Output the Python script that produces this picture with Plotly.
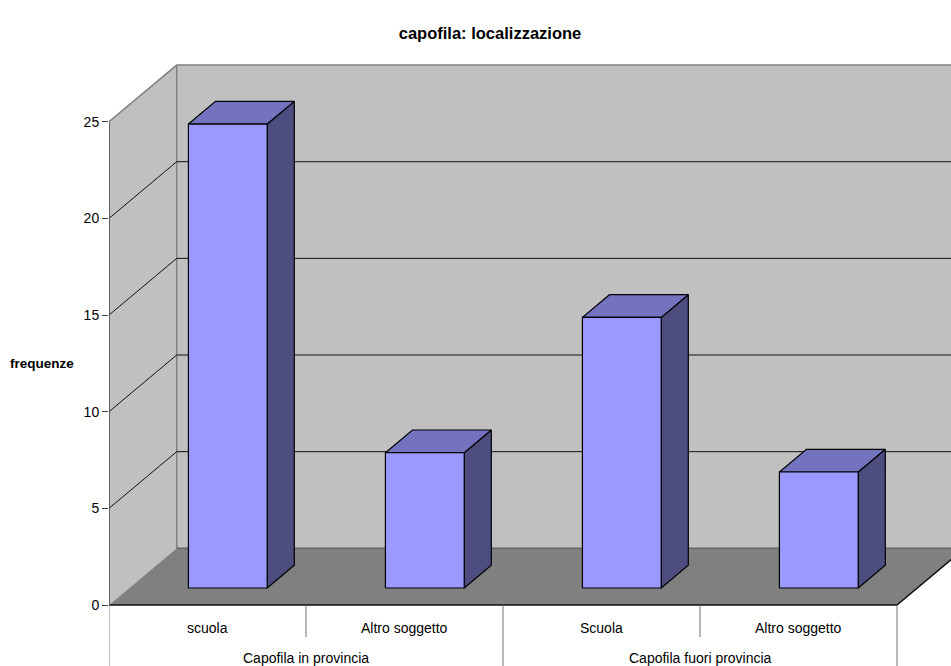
import plotly.graph_objects as go

# Data
categories = ["scuola", "Altro soggetto", "Scuola", "Altro soggetto"]
groups = ["Capofila in provincia", "Capofila fuori provincia"]
frequenze = [24, 7, 14, 6]
y_ticks = [0, 5, 10, 15, 20, 25]
y_max = 25

# Pseudo-3D projection: category units on x, value units on y,
# depth d in [0, 1] shifts points up and to the right.
DEPTH_X = 0.3437
DEPTH_Y = 2.933


def proj(c, v, d):
    return c + d * DEPTH_X, v + d * DEPTH_Y


def poly(points, fill, line_color=None, width=1):
    xs, ys = zip(*[proj(*p) for p in points])
    xs = list(xs) + [xs[0]]
    ys = list(ys) + [ys[0]]
    return go.Scatter(
        x=xs, y=ys, mode="lines", fill="toself", fillcolor=fill,
        line=dict(color=line_color or fill, width=width if line_color else 0),
        hoverinfo="skip", showlegend=False,
    )


def path(points, color, width=1):
    xs, ys = zip(*[proj(*p) for p in points])
    return go.Scatter(
        x=list(xs), y=list(ys), mode="lines",
        line=dict(color=color, width=width),
        hoverinfo="skip", showlegend=False,
    )


n = len(categories)
WALL = "#C0C0C0"
FLOOR = "#808080"
traces = []

# Walls and floor
traces.append(poly([(0, 0, 0), (0, y_max, 0), (0, y_max, 1), (0, 0, 1)], WALL))
traces.append(poly([(0, 0, 1), (n, 0, 1), (n, y_max, 1), (0, y_max, 1)], WALL))
traces.append(poly([(0, 0, 0), (n, 0, 0), (n, 0, 1), (0, 0, 1)], FLOOR))

# Wall edges
traces.append(path([(0, y_max, 0), (0, y_max, 1), (n, y_max, 1)], "#808080", 1.5))
traces.append(path([(0, 0, 1), (0, y_max, 1)], "#808080", 1.5))
traces.append(path([(0, 0, 1), (n, 0, 1)], "#666666", 1.5))

# Gridlines across left and back walls
for v in y_ticks[1:-1]:
    traces.append(path([(0, v, 0), (0, v, 1), (n, v, 1)], "#111111", 1))

# Floor front and right edges
traces.append(path([(0, 0, 0), (n, 0, 0), (n, 0, 1)], "#111111", 1.5))

# Bars
FRONT, TOP, SIDE = "#9999FF", "#7373C0", "#4D4D80"
W0, W1 = 0.3, 0.7
D0, D1 = 0.3, 0.7
for i, v in enumerate(frequenze):
    c0, c1 = i + W0, i + W1
    traces.append(poly([(c1, 0, D0), (c1, 0, D1), (c1, v, D1), (c1, v, D0)], SIDE, "#000000", 1.2))
    traces.append(poly([(c0, v, D0), (c1, v, D0), (c1, v, D1), (c0, v, D1)], TOP, "#000000", 1.2))
    traces.append(poly([(c0, 0, D0), (c1, 0, D0), (c1, v, D0), (c0, v, D0)], FRONT, "#000000", 1.2))

# Front-left axis line
traces.append(path([(0, 0, 0), (0, y_max, 0)], "#404040", 1.5))

# Category table below the floor
ROW1 = -1.655
BOTTOM = -3.2
for k in range(n + 1):
    y_end = BOTTOM if k % 2 == 0 else ROW1
    traces.append(path([(k, 0, 0), (k, y_end, 0)], "#707070" if k else "#808080", 1))

fig = go.Figure(traces)

annotations = []
FONT = "Arial, Liberation Sans, sans-serif"
for i, lab in enumerate(categories):
    annotations.append(dict(x=i + 0.5, y=-1.19, xref="x", yref="y", text=lab,
                            xanchor="center", yanchor="middle", showarrow=False,
                            font=dict(size=14, color="#000000", family=FONT)))
for g, lab in enumerate(groups):
    annotations.append(dict(x=2 * g + 1, y=-2.74, xref="x", yref="y", text=lab,
                            xanchor="center", yanchor="middle", showarrow=False,
                            font=dict(size=14, color="#000000", family=FONT)))
# Horizontal axis title, left of the tick labels
annotations.append(dict(x=(42 - 109) / 842, y=1 - 363 / 666, xref="paper", yref="paper",
                        text="<b>frequenze</b>", xanchor="center", yanchor="middle",
                        showarrow=False,
                        font=dict(size=13.5, color="#000000", family=FONT)))

fig.update_layout(
    width=951, height=666,
    margin=dict(l=109, r=0, t=0, b=0, autoexpand=False),
    paper_bgcolor="#FFFFFF", plot_bgcolor="#FFFFFF",
    title=dict(text="<b>capofila: localizzazione</b>", x=490 / 951, xanchor="center",
               y=1 - 33 / 666, yanchor="middle", yref="container",
               font=dict(size=16.5, color="#000000", family=FONT)),
    xaxis=dict(range=[0, 842 / 197], visible=False, fixedrange=True),
    yaxis=dict(range=[-61 / 19.33, 605 / 19.33], tickvals=y_ticks, ticks="outside",
               ticklen=6, tickcolor="#404040", tickwidth=1, showgrid=False,
               zeroline=False, showline=False, fixedrange=True,
               tickfont=dict(size=14, color="#000000", family=FONT)),
    annotations=annotations,
    showlegend=False,
)

fig.write_html("out.html")
